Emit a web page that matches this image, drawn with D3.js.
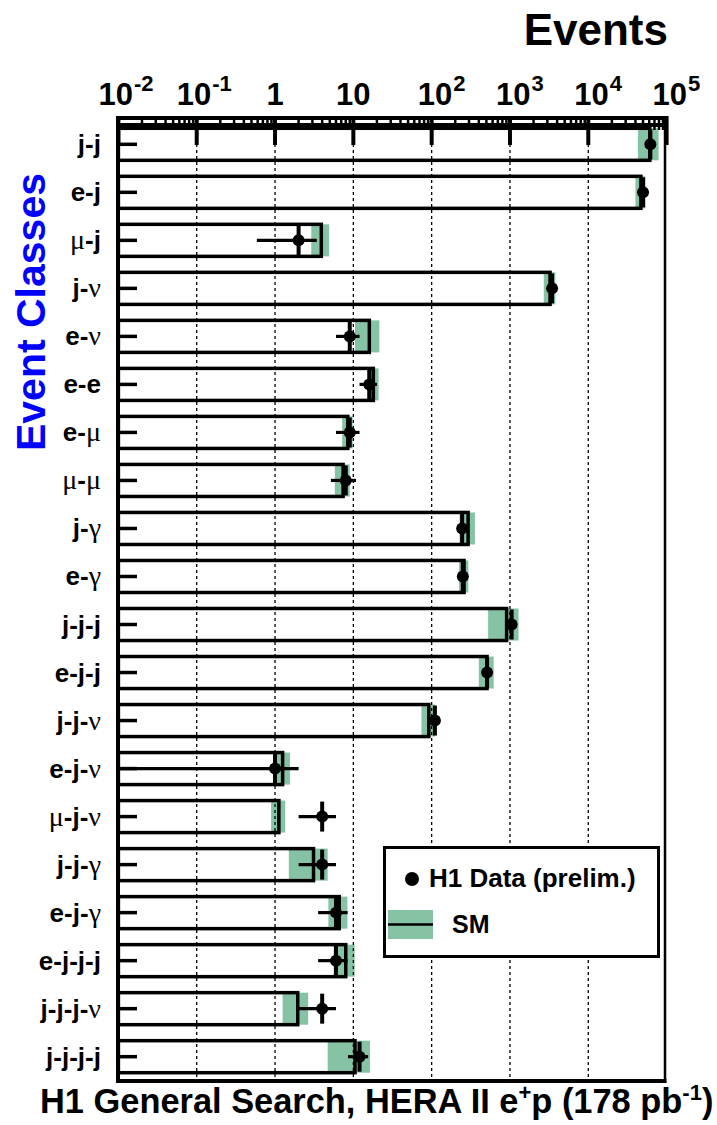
<!DOCTYPE html>
<html>
<head>
<meta charset="utf-8">
<script src="https://cdn.jsdelivr.net/npm/d3@7/dist/d3.min.js"></script>
<style>
  html, body { margin: 0; padding: 0; background: #fff; }
  svg { display: block; }
  text { font-family: "Liberation Sans", Arial, Helvetica, sans-serif; font-weight: bold; fill: #000; }
</style>
</head>
<body>
<script>
// Event classes, top to bottom
const categories = ["j-j","e-j","μ-j","j-ν","e-ν","e-e","e-μ","μ-μ","j-γ","e-γ",
                    "j-j-j","e-j-j","j-j-ν","e-j-ν","μ-j-ν","j-j-γ","e-j-γ","e-j-j-j","j-j-j-ν","j-j-j-j"];

// Observed event counts (H1 data, preliminary)
const dataEvents = [62000, 50000, 2, 3450, 9, 16, 9, 8, 245, 250,
                    1050, 510, 110, 1, 4, 4, 6, 6, 4, 12];

// Standard Model expectation and its uncertainty
const smExpect = [61000, 47000, 3.9, 3250, 16, 18, 8.5, 7.4, 292, 259,
                  906, 510, 92, 1.25, 1.12, 3.1, 6.6, 8, 1.95, 10.5];
const smError  = [18000, 7000, 1.0, 550, 5.5, 3, 1.3, 1.6, 65, 35,
                  380, 110, 18, 0.3, 0.23, 1.6, 1.8, 2.4, 0.7, 5.8];

// Decade tick labels: base and exponent
const tickValues = [1e-2, 1e-1, 1, 10, 1e2, 1e3, 1e4, 1e5];
const tickBase   = ["10", "10", "1", "10", "10", "10", "10", "10"];
const tickExp    = ["-2", "-1", "", "", "2", "3", "4", "5"];

const W = 717, H = 1125;
const smColor = "#86c3a4";

const svg = d3.select("body").append("svg")
  .attr("width", W).attr("height", H)
  .attr("viewBox", `0 0 ${W} ${H}`);
svg.append("rect").attr("width", W).attr("height", H).attr("fill", "#fff");

const x = d3.scaleLog().domain([1e-2, 1e5]).range([118.4, 666.6]).clamp(true);
const y = d3.scaleBand().domain(categories).range([120.3, 1080.7])
  .paddingInner(0.333).paddingOuter(0.1665);
const bw = y.bandwidth();
const yc = c => y(c) + bw / 2;

const rows = categories.map((c, i) => ({
  cat: c, n: dataEvents[i], sm: smExpect[i], err: smError[i]
}));

// SM uncertainty bands
svg.append("g").selectAll("rect").data(rows).join("rect")
  .attr("x", d => x(d.sm - d.err))
  .attr("y", d => y(d.cat))
  .attr("width", d => x(d.sm + d.err) - x(d.sm - d.err))
  .attr("height", bw)
  .attr("fill", smColor);

// Dotted decade grid
const gridVals = tickValues.slice(1, -1);
svg.append("g").selectAll("line").data(gridVals).join("line")
  .attr("x1", d => x(d)).attr("x2", d => x(d))
  .attr("y1", 120).attr("y2", 1080)
  .attr("stroke", "#000").attr("stroke-width", 1.3)
  .attr("stroke-dasharray", "3,3");

// SM histogram bars (outline)
svg.append("g").selectAll("rect").data(rows).join("rect")
  .attr("x", x(1e-2))
  .attr("y", d => y(d.cat))
  .attr("width", d => x(d.sm) - x(1e-2))
  .attr("height", bw)
  .attr("fill", "none")
  .attr("stroke", "#000").attr("stroke-width", 3.5);

// Left row ticks
svg.append("g").selectAll("line").data(categories).join("line")
  .attr("x1", 118).attr("x2", 137)
  .attr("y1", d => yc(d)).attr("y2", d => yc(d))
  .attr("stroke", "#000").attr("stroke-width", 3.5);

// Data points with sqrt(N) errors
const dg = svg.append("g").selectAll("g").data(rows).join("g");
dg.append("line")
  .attr("x1", d => x(Math.max(d.n - Math.sqrt(d.n), 1e-3)))
  .attr("x2", d => x(d.n + Math.sqrt(d.n)))
  .attr("y1", d => yc(d.cat)).attr("y2", d => yc(d.cat))
  .attr("stroke", "#000").attr("stroke-width", 3.2);
dg.append("line")
  .attr("x1", d => x(d.n)).attr("x2", d => x(d.n))
  .attr("y1", d => yc(d.cat) - 15).attr("y2", d => yc(d.cat) + 15)
  .attr("stroke", "#000").attr("stroke-width", 4);
dg.append("circle")
  .attr("cx", d => x(d.n)).attr("cy", d => yc(d.cat)).attr("r", 6)
  .attr("fill", "#000");

// Frame
svg.append("line").attr("x1", 118).attr("x2", 118).attr("y1", 116).attr("y2", 1083)
  .attr("stroke", "#000").attr("stroke-width", 4);
svg.append("line").attr("x1", 665).attr("x2", 665).attr("y1", 116).attr("y2", 1083)
  .attr("stroke", "#000").attr("stroke-width", 2.5);
svg.append("line").attr("x1", 116).attr("x2", 666.5).attr("y1", 1081).attr("y2", 1081)
  .attr("stroke", "#000").attr("stroke-width", 4);
svg.append("line").attr("x1", 116).attr("x2", 666.5).attr("y1", 118).attr("y2", 118)
  .attr("stroke", "#000").attr("stroke-width", 4);
svg.append("line").attr("x1", 118).attr("x2", 666.5).attr("y1", 125).attr("y2", 125)
  .attr("stroke", "#000").attr("stroke-width", 4);

// Top axis ticks: minor and major
const allTicks = x.ticks(70).filter(v => v >= 1e-2 && v <= 1e5);
const isMajor = v => Math.abs(Math.log10(v) - Math.round(Math.log10(v))) < 1e-6;
svg.append("g").selectAll("line").data(allTicks).join("line")
  .attr("x1", d => x(d)).attr("x2", d => x(d))
  .attr("y1", 116)
  .attr("y2", d => isMajor(d) ? 145 : 130)
  .attr("stroke", "#000")
  .attr("stroke-width", d => isMajor(d) ? 4 : 2.5);

// Decade labels
const tl = svg.append("g").selectAll("text").data(tickValues).join("text")
  .attr("y", 105)
  .style("font-size", "31px")
  .attr("x", (d, i) => tickExp[i] === "" ? x(d) : x(d) - (tickExp[i][0] === "-" ? 20 : 14))
  .attr("text-anchor", (d, i) => tickExp[i] === "" ? "middle" : "start");
tl.append("tspan").text((d, i) => tickBase[i]);
tl.append("tspan")
  .attr("dy", -14)
  .attr("dx", 1)
  .style("font-size", "22px")
  .text((d, i) => tickExp[i]);

// Axis titles
svg.append("text").attr("x", 668).attr("y", 45)
  .attr("text-anchor", "end").style("font-size", "44px").text("Events");

svg.append("text")
  .attr("transform", "translate(45,312) rotate(-90)")
  .attr("text-anchor", "middle")
  .style("font-size", "41px").style("fill", "#0000ff")
  .text("Event Classes");

const bt = svg.append("text").attr("x", 40).attr("y", 1113).style("font-size", "34.4px");
bt.append("tspan").text("H1 General Search, HERA II e");
bt.append("tspan").attr("dy", -13).style("font-size", "22px").text("+");
bt.append("tspan").attr("dy", 13).text("p (178 pb");
bt.append("tspan").attr("dy", -13).style("font-size", "22px").text("-1");
bt.append("tspan").attr("dy", 13).text(")");

// Row labels: Greek letters in a thin serif face
const greek = new Set(["μ", "ν", "γ"]);
const lab = svg.append("g").selectAll("text").data(categories).join("text")
  .attr("x", 101).attr("y", d => yc(d) + 9)
  .attr("text-anchor", "end")
  .style("font-size", "26px");
lab.each(function(c) {
  const t = d3.select(this);
  for (const ch of c) {
    const s = t.append("tspan").text(ch);
    if (greek.has(ch)) {
      s.style("font-family", "'Liberation Serif', 'DejaVu Serif', serif")
       .style("font-weight", "normal").style("font-size", "28px");
    }
  }
});

// Legend
const lg = svg.append("g");
lg.append("rect").attr("x", 384.5).attr("y", 847.5).attr("width", 274).attr("height", 109)
  .attr("fill", "#fff").attr("stroke", "#000").attr("stroke-width", 3);
lg.append("circle").attr("cx", 412).attr("cy", 879).attr("r", 7).attr("fill", "#000");
lg.append("text").attr("x", 429).attr("y", 887).style("font-size", "26px").text("H1 Data (prelim.)");
lg.append("rect").attr("x", 388).attr("y", 910).attr("width", 45).attr("height", 29).attr("fill", smColor);
lg.append("line").attr("x1", 388).attr("x2", 433).attr("y1", 924.5).attr("y2", 924.5)
  .attr("stroke", "#000").attr("stroke-width", 2.5);
lg.append("text").attr("x", 452).attr("y", 933).style("font-size", "25px").text("SM");
</script>
</body>
</html>
